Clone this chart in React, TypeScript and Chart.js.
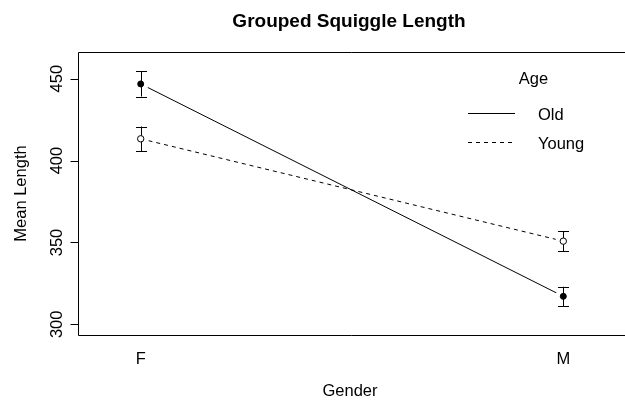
import React, { useEffect, useRef } from "react";
import { Chart, registerables } from "chart.js";

Chart.register(...registerables);

const genders = ["F", "M"];
const seriesNames = ["Old", "Young"];
const oldMeans = [446.8, 317.1];
const youngMeans = [413.3, 350.8];
const oldSE = [7.7, 5.9];
const youngSE = [7.5, 6.2];
const yTicks = [300, 350, 400, 450];
const titleText = "Grouped Squiggle Length";
const xTitle = "Gender";
const yTitle = "Mean Length";
const legendTitle = "Age";

const FONT = '"Liberation Sans", Arial, Helvetica, sans-serif';
const LABEL_SIZE = 16.5;

const pts = (vals: number[]) => vals.map((y, i) => ({ x: i + 1, y }));

const rPlot = {
  id: "rPlot",
  beforeDraw(chart: any) {
    const { ctx, width, height } = chart;
    ctx.save();
    ctx.fillStyle = "#ffffff";
    ctx.fillRect(0, 0, width, height);
    ctx.restore();
  },
  afterDatasetDraw(chart: any, args: any) {
    const ds = chart.data.datasets[args.index];
    if (!ds.errors) return;
    const { ctx } = chart;
    const xs = chart.scales.x;
    const ys = chart.scales.y;
    ctx.save();
    ctx.strokeStyle = "#000";
    ctx.lineWidth = 1;
    ds.data.forEach((p: any, i: number) => {
      const x = Math.round(xs.getPixelForValue(p.x)) + 0.5;
      const yLo = ys.getPixelForValue(p.y - ds.errors[i]);
      const yHi = ys.getPixelForValue(p.y + ds.errors[i]);
      ctx.beginPath();
      ctx.moveTo(x, yLo);
      ctx.lineTo(x, yHi);
      ctx.moveTo(x - 5.5, Math.round(yLo) + 0.5);
      ctx.lineTo(x + 5.5, Math.round(yLo) + 0.5);
      ctx.moveTo(x - 5.5, Math.round(yHi) + 0.5);
      ctx.lineTo(x + 5.5, Math.round(yHi) + 0.5);
      ctx.stroke();
    });
    ctx.restore();
  },
  afterDraw(chart: any) {
    const { ctx, chartArea, width } = chart;
    const xs = chart.scales.x;
    const ys = chart.scales.y;
    const L = Math.round(chartArea.left) + 0.5;
    const T = Math.round(chartArea.top) + 0.5;
    const B = Math.round(chartArea.bottom) + 0.5;
    ctx.save();
    ctx.strokeStyle = "#000";
    ctx.fillStyle = "#000";
    ctx.lineWidth = 1;
    // box (top, left, bottom)
    ctx.beginPath();
    ctx.moveTo(width, T);
    ctx.lineTo(L, T);
    ctx.lineTo(L, B);
    ctx.lineTo(width, B);
    ctx.stroke();
    // y ticks
    ctx.font = `${LABEL_SIZE}px ${FONT}`;
    yTicks.forEach((v) => {
      const y = Math.round(ys.getPixelForValue(v)) + 0.5;
      ctx.beginPath();
      ctx.moveTo(L - 8, y);
      ctx.lineTo(L, y);
      ctx.stroke();
      ctx.save();
      ctx.translate(61.5, ys.getPixelForValue(v));
      ctx.rotate(-Math.PI / 2);
      ctx.textAlign = "center";
      ctx.textBaseline = "alphabetic";
      ctx.fillText(String(v), 0, 0);
      ctx.restore();
    });
    // x category labels
    ctx.textAlign = "center";
    ctx.textBaseline = "alphabetic";
    genders.forEach((g, i) => {
      ctx.fillText(g, xs.getPixelForValue(i + 1), 364);
    });
    // axis titles
    ctx.fillText(xTitle, 350, 396);
    ctx.save();
    ctx.translate(25.5, (chartArea.top + chartArea.bottom) / 2);
    ctx.rotate(-Math.PI / 2);
    ctx.textAlign = "center";
    ctx.fillText(yTitle, 0, 0);
    ctx.restore();
    // title
    ctx.font = `bold 19px ${FONT}`;
    ctx.fillText(titleText, 349, 27);
    // legend
    ctx.font = `${LABEL_SIZE}px ${FONT}`;
    ctx.textAlign = "center";
    ctx.fillText(legendTitle, 533.5, 84);
    ctx.textAlign = "left";
    const rows = [113.5, 142.5];
    seriesNames.forEach((name, i) => {
      ctx.beginPath();
      ctx.setLineDash(i === 0 ? [] : [4, 4]);
      ctx.moveTo(468, rows[i]);
      ctx.lineTo(515, rows[i]);
      ctx.stroke();
      ctx.setLineDash([]);
      ctx.fillText(name, 538, rows[i] + 6);
    });
    ctx.restore();
  },
};

export default function App() {
  const ref = useRef<HTMLCanvasElement | null>(null);
  useEffect(() => {
    if (!ref.current) return;
    const lineBase = {
      borderColor: "#000",
      borderWidth: 1,
      pointRadius: 0,
      showLine: true,
      fill: false,
      order: 3,
    };
    const chart = new Chart(ref.current, {
      type: "scatter",
      data: {
        datasets: [
          { ...lineBase, label: seriesNames[0], data: pts(oldMeans) },
          { ...lineBase, label: seriesNames[1], data: pts(youngMeans), borderDash: [4, 4] },
          {
            label: "gapOld",
            data: pts(oldMeans),
            showLine: false,
            pointRadius: 8,
            pointBackgroundColor: "#fff",
            pointBorderWidth: 0,
            pointBorderColor: "#fff",
            order: 2,
            errors: oldSE,
          } as any,
          {
            label: "gapYoung",
            data: pts(youngMeans),
            showLine: false,
            pointRadius: 8,
            pointBackgroundColor: "#fff",
            pointBorderWidth: 0,
            pointBorderColor: "#fff",
            order: 2,
            errors: youngSE,
          } as any,
          {
            label: "markOld",
            data: pts(oldMeans),
            showLine: false,
            pointRadius: 3,
            pointBackgroundColor: "#000",
            pointBorderColor: "#000",
            pointBorderWidth: 1,
            order: 1,
          },
          {
            label: "markYoung",
            data: pts(youngMeans),
            showLine: false,
            pointRadius: 3.2,
            pointBackgroundColor: "#fff",
            pointBorderColor: "#000",
            pointBorderWidth: 1,
            order: 1,
          },
        ],
      },
      options: {
        responsive: false,
        animation: false,
        layout: { autoPadding: false, padding: { left: 78, top: 52, right: 0, bottom: 66 } },
        plugins: { legend: { display: false }, title: { display: false }, tooltip: { enabled: false } },
        scales: {
          x: { type: "linear", display: false, min: 0.8516, max: 2.146 },
          y: { type: "linear", display: false, min: 293.5, max: 466.3 },
        },
      },
      plugins: [rPlot],
    });
    return () => chart.destroy();
  }, []);
  return (
    <canvas
      ref={ref}
      width={625}
      height={401}
      style={{ position: "absolute", left: 0, top: 0, display: "block" }}
    />
  );
}
